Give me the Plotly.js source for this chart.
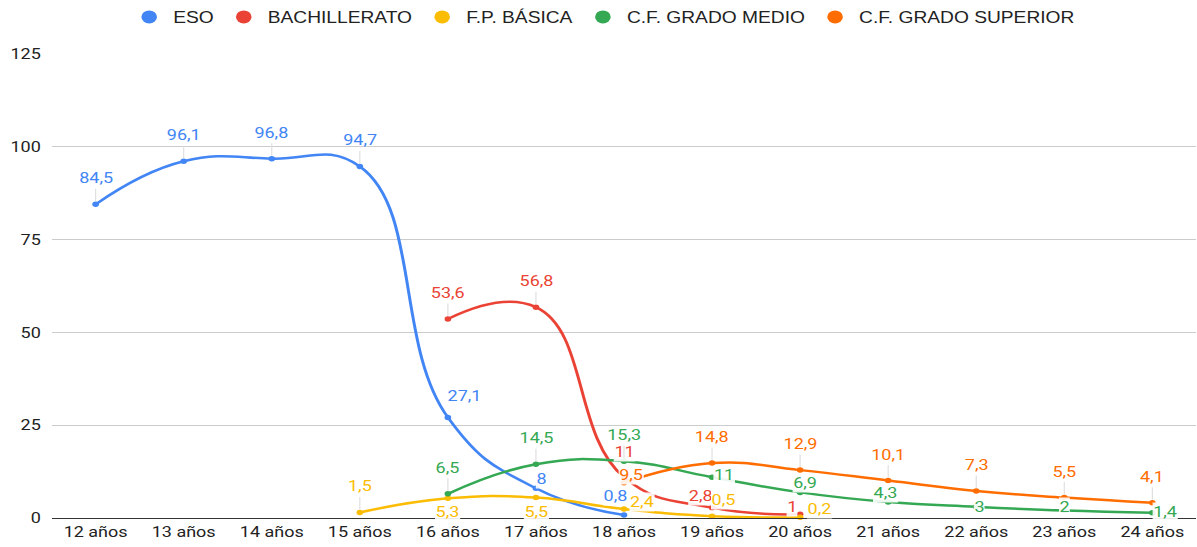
<!DOCTYPE html>
<html>
<head>
<meta charset="utf-8">
<script src="https://cdn.plot.ly/plotly-3.0.1.min.js"></script>
<style>
html,body{margin:0;padding:0;background:#fff;overflow:hidden;}
#wrap{width:1197px;height:547px;overflow:hidden;}
#chart{width:998px;height:547px;transform:scaleX(1.2);transform-origin:0 0;}
</style>
</head>
<body>
<div id="wrap"><div id="chart"></div></div>
<script>
const categories = ['12 años','13 años','14 años','15 años','16 años','17 años','18 años','19 años','20 años','21 años','22 años','23 años','24 años'];
const seriesNames = ['ESO','BACHILLERATO','F.P. BÁSICA','C.F. GRADO MEDIO','C.F. GRADO SUPERIOR'];
const eso  = [84.5, 96.1, 96.8, 94.7, 27.1, 8, 0.8, null, null, null, null, null, null];
const bach = [null, null, null, null, 53.6, 56.8, 11, 2.8, 1, null, null, null, null];
const fpb  = [null, null, null, 1.5, 5.3, 5.5, 2.4, 0.5, 0.2, null, null, null, null];
const gm   = [null, null, null, null, 6.5, 14.5, 15.3, 11, 6.9, 4.3, 3, 2, 1.4];
const gs   = [null, null, null, null, null, null, 9.5, 14.8, 12.9, 10.1, 7.3, 5.5, 4.1];

const colors = ['#4285F4','#EA4335','#FBBC04','#34A853','#FF6D01'];
const allSeries = [eso, bach, fpb, gm, gs];

// label placement (pixel offsets before horizontal scale): 'u' = above with leader line, otherwise [dx, dy]
const U = 'u';
const placement = [
  [U, U, U, U, [14,-21], [4,-9], [-7,-19]],
  [null,null,null,null, U, U, [0,-25], [-9,-12], [-7,-7]],
  [null,null,null, U, [0,14], [0,14], [15,-7], [10,-16], [16,-8]],
  [null,null,null,null, U, U, U, [10,-2], [4,-9], [-2,-9], [2,0], [0,-4], [11,-1]],
  [null,null,null,null,null,null, [6,-8], U, U, U, U, U, U]
];

const fmt = v => String(v).replace('.', ',');

const traces = [];
allSeries.forEach((s, i) => {
  traces.push({
    x: categories, y: s, type: 'scatter', mode: 'lines+markers',
    line: {color: colors[i], width: 2.5, shape: 'spline', smoothing: 1.3},
    marker: {color: colors[i], size: 5.5},
    showlegend: false, hoverinfo: 'skip', cliponaxis: false
  });
});
// legend entries (circles)
allSeries.forEach((s, i) => {
  traces.push({
    x: [null], y: [null], type: 'scatter', mode: 'markers',
    name: seriesNames[i],
    marker: {color: colors[i], size: 13, symbol: 'circle'}
  });
});

const annotations = [];
allSeries.forEach((s, i) => {
  s.forEach((v, j) => {
    if (v === null) return;
    const p = placement[i][j];
    const base = {x: categories[j], y: v, xref: 'x', yref: 'y', text: fmt(v),
      font: {family: 'Roboto, Arial, sans-serif', size: 15, color: colors[i]}};
    if (p === U) {
      annotations.push(Object.assign(base, {showarrow: true, ax: 0, ay: -26, arrowhead: 0,
        arrowwidth: 1, arrowcolor: '#e0e0e0', standoff: 3}));
    } else {
      annotations.push(Object.assign(base, {showarrow: false, xshift: p[0], yshift: -p[1],
        bgcolor: 'rgba(255,255,255,0.9)', borderpad: 0}));
    }
  });
});

const layout = {
  width: 998, height: 547,
  margin: {l: 42.5, r: 1, t: 54, b: 29},
  paper_bgcolor: '#fff', plot_bgcolor: '#fff',
  font: {family: 'Roboto, Arial, sans-serif', size: 15, color: '#222'},
  showlegend: true,
  legend: {orientation: 'h', x: 0.482, xanchor: 'center', y: 1, yanchor: 'top', yref: 'container',
    font: {family: 'Arial, Liberation Sans, sans-serif', size: 16, color: '#222'}, itemwidth: 30, traceorder: 'normal'},
  xaxis: {type: 'category', range: [-0.5, 12.5], showgrid: false, showline: true, linecolor: '#333', linewidth: 1,
    ticks: '', tickfont: {size: 15, color: '#222'}, fixedrange: true},
  yaxis: {range: [0, 125], tickvals: [0, 25, 50, 75, 100, 125], showgrid: true, gridcolor: '#cccccc', gridwidth: 1,
    zeroline: false, showline: false, ticks: '', ticklabelstandoff: 8, tickfont: {size: 15, color: '#222'}, fixedrange: true},
  annotations: annotations
};

Plotly.newPlot('chart', traces, layout, {displayModeBar: false, staticPlot: true});
</script>
</body>
</html>
